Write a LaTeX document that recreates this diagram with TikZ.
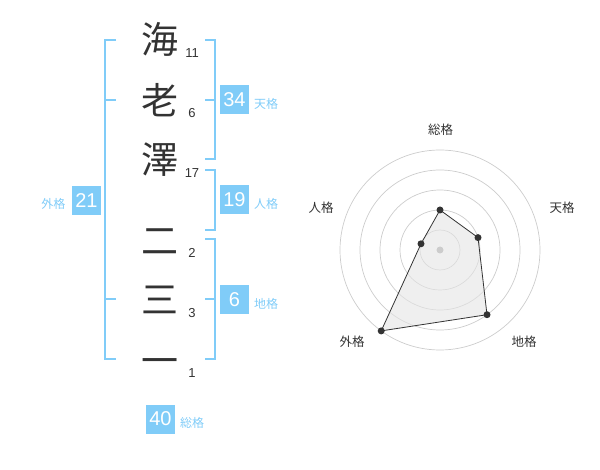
\documentclass[tikz,border=0pt]{standalone}
\usepackage{fontspec}
\setmainfont{Liberation Sans}
\newfontfamily\cjk{Noto Sans CJK JP}
\definecolor{bl}{HTML}{80CCF8}
\definecolor{ink}{HTML}{333333}
\definecolor{ring}{HTML}{CCCCCC}
\begin{document}
\begin{tikzpicture}[x=1pt,y=-1pt,
  kanji/.style={font=\cjk\fontsize{37}{37}\selectfont, text=ink, inner sep=0pt, anchor=base},
  strk/.style={font=\fontsize{13}{13}\selectfont, text=ink, inner sep=0pt},
  valbox/.style={fill=bl, text=white, minimum width=29pt, minimum height=29pt, inner sep=0pt, font=\fontsize{20}{20}\selectfont},
  kaku/.style={font=\cjk\fontsize{12}{12}\selectfont, text=bl, inner sep=0pt},
  brk/.style={draw=bl, line width=2pt},
  ringc/.style={draw=ring, line width=0.7pt},
  rlab/.style={font=\cjk\fontsize{12.5}{12.5}\selectfont, text=ink, inner sep=0pt},
  dot/.style={circle, fill=ink, inner sep=0pt, minimum size=7pt}]
\useasboundingbox (0,0) rectangle (600,470);
% characters
\node[kanji] (c1) at (160,54) {海};
\node[kanji] (c2) at (160,115) {老};
\node[kanji] (c3) at (160,174) {澤};
\node[kanji] (c4) at (160,255) {二};
\node[kanji] (c5) at (160,314) {三};
\node[kanji] (c6) at (160,375) {一};
\node[strk] (n1) at (192,53.5) {11};
\node[strk] (n2) at (192,113.5) {6};
\node[strk] (n3) at (192,173.5) {17};
\node[strk] (n4) at (192,253) {2};
\node[strk] (n5) at (192,313) {3};
\node[strk] (n6) at (192,373.5) {1};
% brackets
\draw[brk] (116,40) -- (105,40) -- (105,359.5) -- (116,359.5);
\draw[brk] (105,100) -- (116,100);
\draw[brk] (105,299.5) -- (116,299.5);
\draw[brk] (205,40) -- (214.5,40) -- (214.5,159.5) -- (205,159.5);
\draw[brk] (205,100) -- (214.5,100);
\draw[brk] (205,170.5) -- (214.5,170.5) -- (214.5,230) -- (205,230);
\draw[brk] (205,239.5) -- (214.5,239.5) -- (214.5,359.5) -- (205,359.5);
\draw[brk] (205,299.5) -- (214.5,299.5);
% values
\node[valbox] (v21) at (86.5,200.5) {21};
\node[kaku] (k21) at (53.5,203.5) {外格};
\node[valbox] (v34) at (234.5,100) {34};
\node[kaku] (k34) at (266,104) {天格};
\node[valbox] (v19) at (234.5,200) {19};
\node[kaku] (k19) at (266,204) {人格};
\node[valbox] (v6) at (234.5,300) {6};
\node[kaku] (k6) at (266,304) {地格};
\node[valbox] (v40) at (160.5,419) {40};
\node[kaku] (k40) at (192,422.5) {総格};
% radar
\coordinate (O) at (440,250);
\foreach \r in {20,40,60,80,100} \draw[ringc] (O) circle (\r pt);
\coordinate (pa) at (440,210);
\coordinate (pb) at (478.0,237.6);
\coordinate (pc) at (487.0,314.7);
\coordinate (pd) at (381.2,330.9);
\coordinate (pe) at (421.0,243.8);
\fill[black!10, fill opacity=0.6] (pa) -- (pb) -- (pc) -- (pd) -- (pe) -- cycle;
\draw[ink, line width=0.8pt] (pa) -- (pb) -- (pc) -- (pd) -- (pe) -- cycle;
\node[circle, fill=ring, inner sep=0pt, minimum size=7pt] (cen) at (O) {};
\foreach \p in {pa,pb,pc,pd,pe} \node[dot] at (\p) {};
\node[rlab] (la) at (440.5,130) {総格};
\node[rlab] (lb) at (562,208) {天格};
\node[rlab] (lc) at (524,342) {地格};
\node[rlab] (ld) at (352,342) {外格};
\node[rlab] (le) at (321,208) {人格};
\end{tikzpicture}
\end{document}
